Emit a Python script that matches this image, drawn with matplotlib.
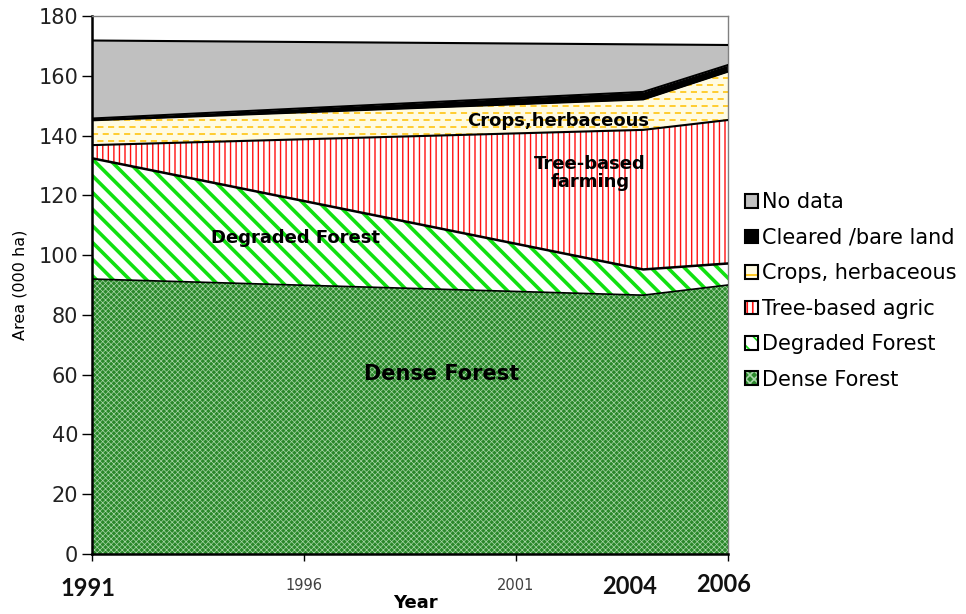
import numpy as np
import matplotlib
matplotlib.use('Agg')
import matplotlib.pyplot as plt
from matplotlib.patches import Patch
from matplotlib.legend_handler import HandlerTuple

# land-cover areas (000 ha)
years    = [1991, 2004, 2006]
dense    = [92.0, 86.6, 90.0]
degraded = [40.4, 8.6, 7.2]
tree     = [4.4, 46.7, 48.0]
crops    = [8.3, 10.2, 16.2]
cleared  = [0.6, 2.5, 2.2]
no_data  = [26.1, 15.9, 6.7]

layers = ['Dense Forest', 'Degraded Forest', 'Tree-based agric',
          'Crops, herbaceous', 'Cleared /bare land', 'No data']
xticks = [1991, 1996, 2001, 2006]
xticklabels = ['', '1996', '2001', '']
bold_years = ['1991', '2004', '2006']

plt.rcParams['font.family'] = ['DejaVu Sans']

# fill style per layer: facecolor, hatch, hatch colour, hatch linewidth
STYLE = {
    'Dense Forest':       ('#2a882a', 'xxxxxx', '#a8d6a8', 0.5),
    'Degraded Forest':    ('white', '\\\\', '#11e011', 2.6),
    'Tree-based agric':   ('white', '|||', '#ff1010', 1.0),
    'Crops, herbaceous':  ('#fffbe2', None, None, 0),
    'Cleared /bare land': ('black', None, None, 0),
    'No data':            ('#c0c0c0', None, None, 0),
}
# legend swatches (small squares need coarser patterns)
LEG_STYLE = {
    'Dense Forest':       ('#2a882a', 'xxxx', '#a8d6a8', 0.5),
    'Degraded Forest':    ('white', '\\\\', '#11e011', 2.2),
    'Tree-based agric':   ('white', '|||', '#ff1010', 1.2),
    'Crops, herbaceous':  ('#fffbe2', '-', '#ffc000', 1.5),
    'Cleared /bare land': ('black', None, None, 0),
    'No data':            ('#c0c0c0', None, None, 0),
}

fig = plt.figure(figsize=(9.66, 6.14), dpi=100)
ax = fig.add_axes([92/966, 1-554/614, (728-92)/966, (554-16)/614])

x = np.array(years, dtype=float)
vals = [dense, degraded, tree, crops, cleared, no_data]
bottom = np.zeros(len(years))
polys = {}
tops = []
for name, v in zip(layers, vals):
    top = bottom + np.array(v)
    fc, hatch, hc, hlw = STYLE[name]
    plt.rcParams['hatch.linewidth'] = max(hlw, 0.1)
    p = ax.fill_between(x, bottom, top, facecolor=fc, hatch=hatch,
                        edgecolor=hc if hc else fc, linewidth=0, zorder=1)
    if hatch and hasattr(p, 'set_hatch_linewidth'):
        p.set_hatch_linewidth(hlw)
    polys[name] = p
    tops.append(top)
    bottom = top

# dashed yellow lines inside the crops band
clip_path = polys['Crops, herbaceous'].get_paths()[0]
for i, yy in enumerate(np.arange(126.5, 166, 2.35)):
    ls = (3.5, (4, 3)) if i % 2 else (0, (4, 3))
    ln, = ax.plot([1991, 2006], [yy, yy], color='#ffc000', lw=1.1,
                  linestyle=ls, zorder=2)
    ln.set_clip_path(clip_path, ax.transData)

# black boundary lines between layers
lws = [1.2, 1.8, 1.5, 1.5, 1.5, 1.5]
for t, lw in zip(tops, lws):
    ax.plot(x, t, color='black', lw=lw, zorder=3, solid_joinstyle='miter')

ax.set_xlim(1991, 2006)
ax.set_ylim(0, 180)
ax.set_yticks(np.arange(0, 181, 20))
ax.set_xticks(xticks)
ax.set_xticklabels(xticklabels, fontsize=10.5, color='#404040')
ax.tick_params(axis='y', labelsize=15, length=7, width=1, direction='out',
               pad=3, labelcolor='#222222')
ax.tick_params(axis='x', length=5, width=1, direction='out', pad=12)
for s in ['left', 'bottom']:
    ax.spines[s].set_linewidth(1.8)
for s in ['top', 'right']:
    ax.spines[s].set_color('#808080')
    ax.spines[s].set_linewidth(1.0)
ax.set_ylabel('Area (000 ha)', fontsize=11.5)
ax.yaxis.set_label_coords(-64/636, 0.5)

# big bold year labels under the axis
for s, px, py in zip(bold_years, [88, 630, 724], [588, 587, 585]):
    fig.text(px/966, 1-py/614, s, ha='center', va='center',
             fontsize=17, fontweight='bold', family=['Lato', 'DejaVu Sans'],
             color='#111111')
fig.text(415/966, 1-594/614, 'Year', ha='center', va='top',
         fontsize=13, fontweight='bold')

# area labels
lab = dict(ha='center', va='center', fontweight='bold', color='black', zorder=5)
ax.text(1999.25, 60.2, 'Dense Forest', fontsize=15, **lab)
ax.text(1995.8, 105.7, 'Degraded Forest', fontsize=13, **lab)
ax.text(2002.75, 127.5, 'Tree-based\nfarming', fontsize=13, linespacing=1.05, **lab)
ax.text(2002.0, 144.9, 'Crops,herbaceous', fontsize=13, **lab)

# legend, top entry = top layer; hatch in its own colour, black square border
handles, labels = [], []
for name in layers[::-1]:
    fc, hatch, hc, hlw = LEG_STYLE[name]
    plt.rcParams['hatch.linewidth'] = max(hlw, 0.1)
    fill = Patch(facecolor=fc, hatch=hatch, edgecolor=hc if hc else fc, linewidth=0)
    if hatch and hasattr(fill, 'set_hatch_linewidth'):
        fill.set_hatch_linewidth(hlw)
    border = Patch(facecolor='none', edgecolor='black', linewidth=1.5)
    handles.append((fill, border))
    labels.append(name)
plt.rcParams['hatch.linewidth'] = 1.2
leg = fig.legend(handles, labels, handler_map={tuple: HandlerTuple(ndivide=1)},
                 loc='center left', bbox_to_anchor=(745/966, 1-291/614),
                 frameon=False, fontsize=15, handlelength=0.62, handleheight=0.62,
                 handletextpad=0.2, labelspacing=0.74, borderpad=0, borderaxespad=0)

# copy the per-swatch hatch widths onto the legend's own patches
for h_art, name in zip(leg.legend_handles, layers[::-1]):
    fc, hatch, hc, hlw = LEG_STYLE[name]
    arts = getattr(h_art, 'get_children', lambda: [h_art])()
    for a in arts:
        if hatch and hasattr(a, 'set_hatch_linewidth') and a.get_hatch():
            a.set_hatch_linewidth(hlw)

fig.savefig('out.png', dpi=100)
